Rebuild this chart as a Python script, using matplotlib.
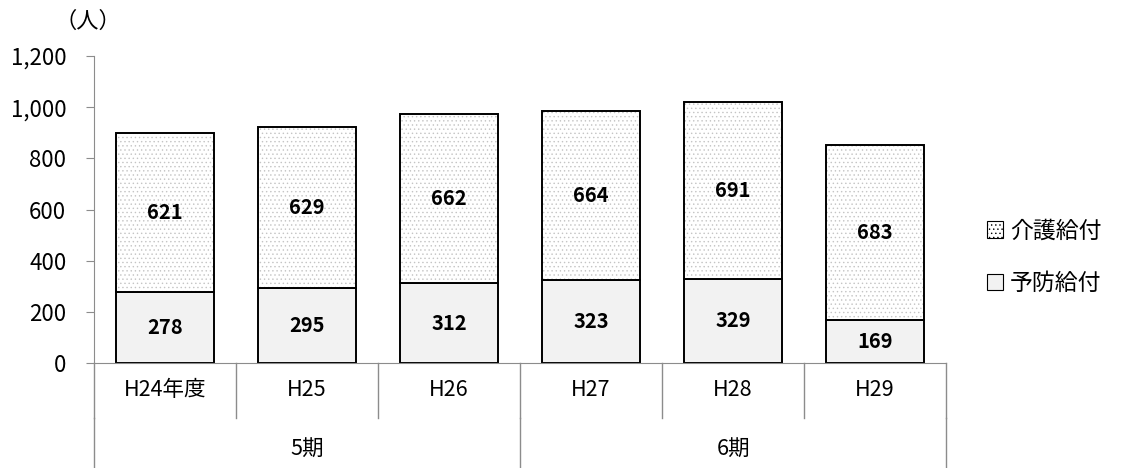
import matplotlib
matplotlib.use("Agg")
import matplotlib.pyplot as plt
from matplotlib.patches import Patch
import numpy as np

plt.rcParams['font.family'] = ['Noto Sans CJK JP', 'DejaVu Sans']
plt.rcParams['hatch.color'] = '#c4c4c4'
plt.rcParams['hatch.linewidth'] = 0.5

years = ['H24年度', 'H25', 'H26', 'H27', 'H28', 'H29']
periods = ['5期', '6期']
period_sizes = [3, 3]
yobou = [278, 295, 312, 323, 329, 169]     # 予防給付
kaigo = [621, 629, 662, 664, 691, 683]     # 介護給付
yticks = [0, 200, 400, 600, 800, 1000, 1200]

fig = plt.figure(figsize=(11.21, 4.68), dpi=100)
ax = fig.add_axes([0.0839, 0.2244, 0.76, 0.6559])

x = np.arange(len(years))
w = 0.69
ax.bar(x, yobou, w, color='#f2f2f2', edgecolor='black', linewidth=1.4, zorder=2)
ax.bar(x, kaigo, w, bottom=yobou, color='white', edgecolor='#c4c4c4',
       linewidth=0, hatch='....', zorder=2)
# outlines over the hatch
ax.bar(x, kaigo, w, bottom=yobou, fill=False, edgecolor='black', linewidth=1.4, zorder=3)

for xi, a, b in zip(x, yobou, kaigo):
    ax.text(xi, a / 2, f'{a}', ha='center', va='center', fontsize=14.5,
            fontweight='bold', zorder=4)
    ax.text(xi, a + b / 2, f'{b}', ha='center', va='center', fontsize=14.5,
            fontweight='bold', zorder=4)

ax.set_xlim(-0.5, len(years) - 0.5)
ax.set_ylim(0, 1200)
ax.set_yticks(yticks)
ax.set_yticklabels([f'{v:,}' for v in yticks], fontsize=16)
ax.set_xticks([])
for s in ['top', 'right']:
    ax.spines[s].set_visible(False)
ax.spines['left'].set_color('#8c8c8c')
ax.spines['bottom'].set_color('#8c8c8c')
ax.tick_params(axis='y', length=6, color='#8c8c8c', pad=14)

# two-level category axis
n = len(years)
tr = ax.get_xaxis_transform()
for i in range(n + 1):
    xe = i - 0.5
    ax.plot([xe, xe], [0, -0.179], transform=tr, color='#8c8c8c',
            lw=1.0, clip_on=False)
for i, lab in enumerate(years):
    ax.text(i, -0.088, lab, transform=tr, ha='center', va='center', fontsize=15.5)
start = 0
edges = [-0.5]
for p, sz in zip(periods, period_sizes):
    ax.text(start + (sz - 1) / 2, -0.283, p, transform=tr, ha='center',
            va='center', fontsize=15.5)
    start += sz
    edges.append(start - 0.5)
for xe in edges:
    ax.plot([xe, xe], [-0.179, -0.36], transform=tr, color='#8c8c8c',
            lw=1.0, clip_on=False)

fig.text(0.078, 0.955, '（人）', ha='center', va='center', fontsize=16)

handles = [Patch(facecolor='white', edgecolor='black', hatch='....', linewidth=0.8),
           Patch(facecolor='#f2f2f2', edgecolor='black', linewidth=0.8)]
fig.legend(handles, ['介護給付', '予防給付'], loc='center left',
           bbox_to_anchor=(0.862, 0.45), frameon=False, fontsize=16.5,
           handlelength=0.7, handleheight=0.7, handletextpad=0.3,
           labelspacing=1.3)

fig.savefig('out.png', dpi=100)
